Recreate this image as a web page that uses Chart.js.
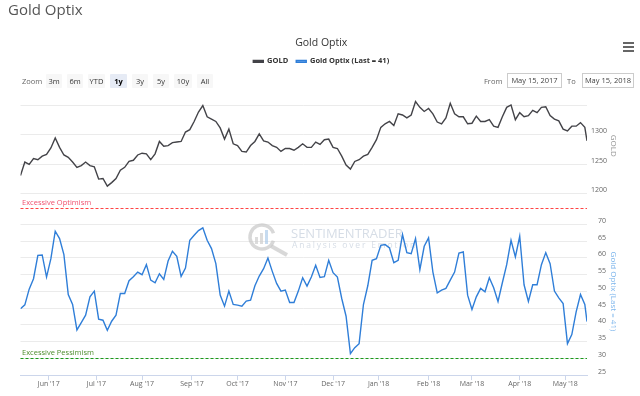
<!DOCTYPE html>
<html>
<head>
<meta charset="utf-8">
<title>Gold Optix</title>
<script src="https://cdn.jsdelivr.net/npm/chart.js@4.4.0/dist/chart.umd.min.js"></script>
<style>
    html, body { margin: 0; padding: 0; background: #fff; }
    body { width: 640px; height: 396px; position: relative; overflow: hidden; font-family: "Open Sans", sans-serif; }
    #chartBox { position: absolute; left: 0; top: 0; width: 640px; height: 396px; }
    #pageTitle { position: absolute; left: 8px; top: -1px; font-size: 15px; color: #555; }
    .rs { position: absolute; top: 74px; height: 14px; line-height: 14px; font-size: 7.5px; color: #666; }
    .btn { background: #f7f7f7; color: #333; text-align: center; border-radius: 1px; }
    .btn.on { background: #e6ebf5; font-weight: bold; color: #000; }
    .inp { border: 1px solid #ccc; box-sizing: border-box; text-align: center; color: #444; top: 73px; height: 15px; line-height: 13px; }
    #menu { position: absolute; left: 623px; top: 42px; width: 11px; }
    #menu div { height: 1.6px; background: #666; margin-bottom: 2.4px; }
</style>
</head>
<body>
<div id="chartBox"><canvas id="optixChart" width="640" height="396"></canvas></div>
<div id="pageTitle">Gold Optix</div>
<div id="menu"><div></div><div></div><div></div></div>
<div class="rs" style="left:22px">Zoom</div>
<div class="rs btn" style="left:46px;width:16px">3m</div>
<div class="rs btn" style="left:67px;width:16px">6m</div>
<div class="rs btn" style="left:88px;width:17px">YTD</div>
<div class="rs btn on" style="left:110px;width:17px">1y</div>
<div class="rs btn" style="left:132px;width:16px">3y</div>
<div class="rs btn" style="left:153px;width:16px">5y</div>
<div class="rs btn" style="left:174px;width:18px">10y</div>
<div class="rs btn" style="left:197px;width:16px">All</div>
<div class="rs" style="left:484px">From</div>
<div class="rs inp" style="left:507px;width:55px">May 15, 2017</div>
<div class="rs" style="left:567px">To</div>
<div class="rs inp" style="left:582px;width:52px">May 15, 2018</div>

<script>
// one value every 2 trading days from May 15, 2017, last point is May 15, 2018
const dayStep = 2;
const lastDay = 261;

const gold = [
    1231, 1254, 1250, 1260, 1258, 1264, 1267, 1278, 1295, 1279,
    1266, 1262, 1254, 1245, 1248, 1254, 1248, 1246, 1225, 1226,
    1213, 1219, 1226, 1240, 1245, 1255, 1257, 1266, 1269, 1268,
    1258, 1268, 1289, 1281, 1282, 1287, 1288, 1289, 1305, 1309,
    1323, 1339, 1350, 1331, 1327, 1323, 1312, 1293, 1310, 1285,
    1282, 1272, 1271, 1282, 1289, 1302, 1290, 1288, 1282, 1279,
    1272, 1277, 1277, 1274, 1279, 1285, 1279, 1279, 1288, 1284,
    1292, 1293, 1279, 1277, 1264, 1249, 1242, 1255, 1258, 1264,
    1267, 1279, 1292, 1313, 1319, 1323, 1316, 1336, 1334, 1329,
    1334, 1357, 1347, 1340, 1345, 1336, 1322, 1319, 1329, 1354,
    1336, 1331, 1331, 1319, 1320, 1332, 1323, 1323, 1326, 1315,
    1313, 1331, 1347, 1351, 1326, 1338, 1331, 1333, 1342, 1338,
    1347, 1348, 1333, 1327, 1324, 1310, 1307, 1315, 1315, 1321,
    1313, 1290
];

const optix = [
    44.8, 46.0, 50.7, 53.8, 60.8, 60.9, 54.3, 59.8, 68.0, 65.8,
    61.0, 49.1, 46.1, 38.5, 40.7, 42.9, 48.4, 50.1, 41.7, 41.4,
    38.4, 41.1, 42.9, 49.4, 49.4, 53.2, 54.4, 55.8, 55.0, 58.0,
    53.4, 52.6, 55.3, 53.6, 59.1, 62.0, 60.5, 54.5, 57.0, 65.3,
    66.8, 68.2, 69.0, 65.3, 62.8, 58.3, 48.9, 45.6, 50.1, 46.1,
    45.9, 45.6, 47.1, 47.4, 51.7, 54.6, 56.8, 60.0, 56.0, 52.4,
    50.1, 50.4, 46.7, 46.7, 50.1, 54.1, 51.6, 54.3, 57.8, 54.2,
    54.4, 59.3, 55.6, 54.3, 47.9, 42.6, 31.4, 33.2, 34.4, 46.1,
    51.7, 59.3, 59.8, 63.8, 64.0, 63.0, 58.6, 59.3, 67.0, 61.6,
    61.3, 65.8, 56.5, 63.5, 66.0, 55.8, 49.6, 50.4, 50.9, 53.4,
    55.8, 61.5, 61.8, 48.9, 44.6, 48.4, 50.9, 49.9, 54.1, 51.1,
    47.0, 52.6, 58.0, 65.3, 60.3, 66.5, 52.0, 47.0, 52.0, 52.0,
    58.0, 61.6, 58.3, 50.1, 48.1, 46.4, 34.4, 37.1, 43.9, 49.1,
    46.1, 41.0
];

const monthTicks = [13, 35, 56, 79, 100, 122, 144, 165, 188, 208, 230, 251];
const monthLabels = ["Jun '17", "Jul '17", "Aug '17", "Sep '17", "Oct '17", "Nov '17",
    "Dec '17", "Jan '18", "Feb '18", "Mar '18", "Apr '18", "May '18"];
const goldTicks = [1200, 1250, 1300, 1350];
const optixTicks = [25, 30, 35, 40, 45, 50, 55, 60, 65, 70];
const optimismLevel = 75;
const pessimismLevel = 30;

function toPoints(values) {
    return values.map((v, i) => ({ x: Math.min(i * dayStep, lastDay), y: v }));
}

function setTicks(list) {
    return scale => { scale.ticks = list.map(v => ({ value: v })); };
}

function fixWidth(scale) {
    scale.width = 35;
}

const tickFont = { size: 7 };

const bandsPlugin = {
    id: "bands",
    beforeDatasetsDraw(chart) {
        const { ctx, chartArea } = chart;
        const y = chart.scales.yOptix;

        // watermark
        ctx.save();
        ctx.strokeStyle = "rgba(200,200,200,0.7)";
        ctx.lineWidth = 3.5;
        ctx.beginPath();
        ctx.arc(262, 237, 12, Math.PI * 0.1, Math.PI * 1.9);
        ctx.stroke();
        ctx.lineWidth = 4;
        ctx.beginPath();
        ctx.moveTo(271, 246);
        ctx.lineTo(287, 255);
        ctx.stroke();
        ctx.fillStyle = "rgba(205,205,205,0.7)";
        ctx.fillRect(255, 237, 3, 7);
        ctx.fillRect(260, 233, 3, 11);
        ctx.fillStyle = "rgba(160,195,230,0.6)";
        ctx.fillRect(265, 230, 3, 14);
        ctx.fillStyle = "rgba(200,210,222,0.75)";
        ctx.font = '13px "Open Sans"';
        ctx.textBaseline = "middle";
        ctx.fillText("SENTIMENTRADER", 291, 234);
        ctx.font = '8.5px "Open Sans"';
        ctx.letterSpacing = "1.8px";
        ctx.fillText("Analysis over Emotion", 292, 246);
        ctx.restore();

        const lines = [
            { v: optimismLevel, color: "#f44", text: "Excessive Optimism", textColor: "#f0506e" },
            { v: pessimismLevel, color: "#1a9a1a", text: "Excessive Pessimism", textColor: "#4c8c2c" }
        ];
        lines.forEach(l => {
            const py = Math.round(y.getPixelForValue(l.v)) + 0.5;
            ctx.save();
            ctx.strokeStyle = l.color;
            ctx.lineWidth = 1;
            ctx.setLineDash([3, 2]);
            ctx.beginPath();
            ctx.moveTo(chartArea.left, py);
            ctx.lineTo(chartArea.right, py);
            ctx.stroke();
            ctx.fillStyle = l.textColor;
            ctx.font = '7.5px "Open Sans"';
            ctx.textBaseline = "bottom";
            ctx.fillText(l.text, chartArea.left + 1.5, py - 1.5);
            ctx.restore();
        });
    }
};

Chart.defaults.font.family = '"Open Sans", sans-serif';

new Chart(document.getElementById("optixChart"), {
    type: "line",
    data: {
        datasets: [{
            label: "GOLD",
            data: toPoints(gold),
            yAxisID: "yGold",
            borderColor: "#434348",
            backgroundColor: "#434348",
            borderWidth: 1.4,
            pointRadius: 0
        }, {
            label: "Gold Optix (Last = 41)",
            data: toPoints(optix),
            yAxisID: "yOptix",
            borderColor: "#2f7ed8",
            backgroundColor: "#5b9be6",
            borderWidth: 1.4,
            pointRadius: 0
        }]
    },
    options: {
        responsive: false,
        animation: false,
        devicePixelRatio: 1,
        layout: { padding: { top: 37, right: 18, left: 20.5, bottom: 7.5 } },
        plugins: {
            title: {
                display: true,
                text: "Gold Optix",
                color: "#333",
                font: { size: 10.5, weight: "normal" },
                padding: { top: 0, bottom: 0 }
            },
            legend: {
                labels: {
                    boxWidth: 10,
                    boxHeight: 2,
                    color: "#333",
                    font: { size: 7.5, weight: "bold" },
                    padding: 8
                }
            },
            tooltip: { enabled: false }
        },
        scales: {
            x: {
                type: "linear",
                min: 0,
                max: lastDay,
                afterBuildTicks: setTicks(monthTicks),
                ticks: {
                    callback: (v, i) => monthLabels[i],
                    autoSkip: false,
                    maxRotation: 0,
                    color: "#666",
                    font: tickFont,
                    padding: 0
                },
                grid: { drawOnChartArea: false, drawTicks: true, tickLength: 5, color: "#ccd6eb" },
                border: { color: "#ccd6eb" }
            },
            spacer: {
                type: "linear",
                position: "top",
                display: true,
                ticks: { display: false },
                grid: { display: false },
                border: { display: false },
                afterFit: scale => { scale.height = 22.5; }
            },
            yGold: {
                position: "right",
                stack: "panes",
                stackWeight: 96,
                min: 1200,
                max: 1363.6,
                afterBuildTicks: setTicks(goldTicks),
                afterFit: fixWidth,
                ticks: {
                    callback: v => (v === 1350 ? "" : v),
                    autoSkip: false,
                    crossAlign: "near",
                    padding: 4,
                    labelOffset: -3.5,
                    color: "#666",
                    font: tickFont
                },
                grid: { color: "#ebebeb", drawTicks: false },
                border: { display: false },
                title: { display: true, text: "GOLD", color: "#999", font: { size: 8 }, padding: { top: 4, bottom: 0 } }
            },
            yGap: {
                type: "linear",
                position: "right",
                stack: "panes",
                stackWeight: 14,
                min: 0,
                max: 1,
                afterFit: fixWidth,
                ticks: { display: false },
                grid: { display: false },
                border: { display: false }
            },
            yOptix: {
                position: "right",
                stack: "panes",
                stackWeight: 167,
                min: 25,
                max: 75,
                afterBuildTicks: setTicks(optixTicks),
                afterFit: fixWidth,
                ticks: {
                    autoSkip: false,
                    crossAlign: "near",
                    padding: 11,
                    labelOffset: -3.5,
                    color: "#666",
                    font: tickFont
                },
                grid: { color: "#ebebeb", drawTicks: false },
                border: { display: false },
                title: { display: true, text: "Gold Optix (Last = 41)", color: "#7cb5ec", font: { size: 8 }, padding: { top: 4, bottom: 0 } }
            }
        }
    },
    plugins: [bandsPlugin]
});
</script>
</body>
</html>
